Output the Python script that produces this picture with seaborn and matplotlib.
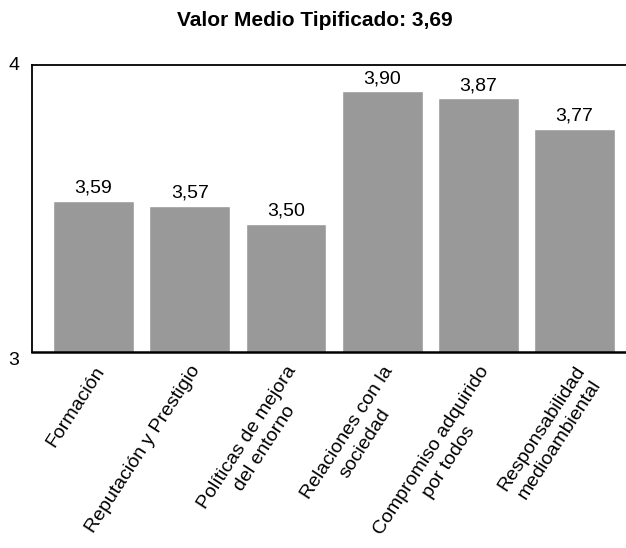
import pandas as pd
import matplotlib
matplotlib.use("Agg")
import matplotlib.pyplot as plt
import seaborn as sns

categories = [
    "Formación",
    "Reputación y Prestigio",
    "Políticas de mejora\ndel entorno",
    "Relaciones con la\nsociedad",
    "Compromiso adquirido\npor todos",
    "Responsabilidad\nmedioambiental",
]
# bar heights as drawn in the picture
heights = [3.526, 3.509, 3.447, 3.909, 3.885, 3.777]
# value labels as printed above the bars
value_labels = ["3,59", "3,57", "3,50", "3,90", "3,87", "3,77"]
title = "Valor Medio Tipificado: 3,69"

df = pd.DataFrame({"cat": categories, "val": heights})

sns.set_style("white")
plt.rcParams["font.family"] = ["Liberation Sans", "DejaVu Sans"]
plt.rcParams["text.color"] = "black"
plt.rcParams["xtick.color"] = "black"
plt.rcParams["ytick.color"] = "black"

fig = plt.figure(figsize=(6.26, 5.48), dpi=100)
ax = fig.add_axes([0.051, 0.358, 0.949, 0.523])

sns.barplot(data=df, x="cat", y="val", color="#999999", saturation=1,
            width=0.84, ax=ax)

ax.set_ylim(3, 4)
ax.set_xlim(-0.64, 5.535)
ax.set_xlabel("")
ax.set_ylabel("")

for i, lab in enumerate(value_labels):
    ax.annotate(lab, (i, heights[i]), xytext=(0, 3), textcoords="offset points",
                ha="center", va="bottom", fontsize=14, color="black")

ax.set_yticks([3, 4])
ax.set_yticklabels(["3", "4"], fontsize=14)
ax.tick_params(axis="y", length=0, pad=9)
ylabs = ax.get_yticklabels()
ylabs[0].set_va("top")
ylabs[1].set_va("center")

ax.set_xticks(range(len(categories)))
ax.set_xticklabels(categories, rotation=57, ha="right", rotation_mode="anchor",
                   multialignment="center", linespacing=1.3, fontsize=14)
ax.tick_params(axis="x", length=0, pad=8)

for side in ["left", "top", "bottom"]:
    ax.spines[side].set_visible(True)
    ax.spines[side].set_color("black")
    ax.spines[side].set_linewidth(1.3)
ax.spines["bottom"].set_linewidth(1.8)
ax.spines["right"].set_visible(False)

fig.text(0.503, 0.962, title, ha="center", va="center", fontsize=15,
         fontweight="bold", color="black")

fig.savefig("out.png", dpi=100)
